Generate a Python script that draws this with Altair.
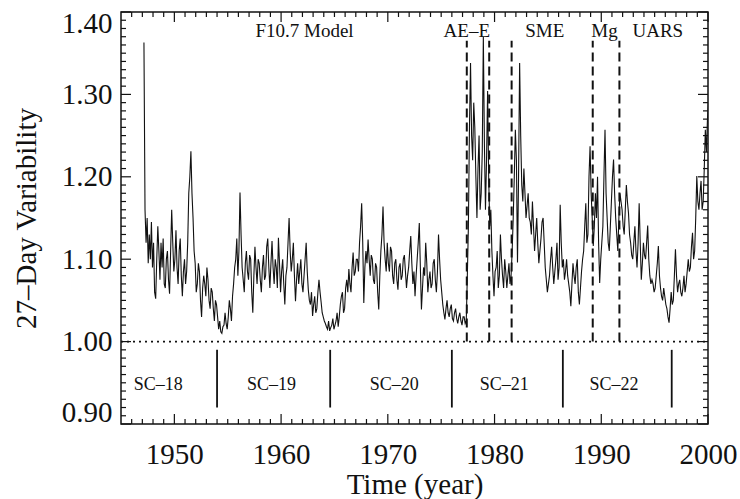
import altair as alt
import pandas as pd

# ---------------- data ----------------
T0 = 1947.15         # first sample (year)
STEP = 0.1           # sample spacing (year)
variability = [
    1.363, 1.160, 1.120, 1.150, 1.095, 1.130, 1.100, 1.145, 1.090, 1.120,  # 1947
    1.060, 1.052, 1.100, 1.140, 1.110, 1.075, 1.120, 1.090, 1.125, 1.070,  # 1948
    1.065, 1.100, 1.110, 1.075, 1.058, 1.110, 1.160, 1.120, 1.085, 1.100,  # 1949
    1.135, 1.090, 1.070, 1.110, 1.125, 1.080, 1.055, 1.085, 1.100, 1.070,  # 1950
    1.085, 1.120, 1.180, 1.200, 1.231, 1.180, 1.150, 1.110, 1.095, 1.060,  # 1951
    1.070, 1.095, 1.085, 1.050, 1.030, 1.065, 1.080, 1.070, 1.055, 1.090,  # 1952
    1.075, 1.050, 1.040, 1.065, 1.060, 1.040, 1.025, 1.050, 1.045, 1.030,  # 1953
    1.015, 1.025, 1.012, 1.010, 1.018, 1.020, 1.035, 1.022, 1.015, 1.030,  # 1954
    1.050, 1.040, 1.025, 1.055, 1.070, 1.090, 1.100, 1.125, 1.080, 1.110,  # 1955
    1.181, 1.130, 1.090, 1.075, 1.060, 1.095, 1.110, 1.085, 1.075, 1.105,  # 1956
    1.100, 1.060, 1.035, 1.080, 1.115, 1.090, 1.070, 1.100, 1.095, 1.075,  # 1957
    1.060, 1.090, 1.105, 1.075, 1.080, 1.115, 1.125, 1.090, 1.065, 1.095,  # 1958
    1.122, 1.090, 1.070, 1.100, 1.090, 1.065, 1.126, 1.095, 1.060, 1.085,  # 1959
    1.100, 1.070, 1.045, 1.080, 1.090, 1.120, 1.150, 1.110, 1.085, 1.100,  # 1960
    1.120, 1.080, 1.049, 1.075, 1.095, 1.070, 1.085, 1.100, 1.070, 1.060,  # 1961
    1.080, 1.100, 1.120, 1.085, 1.063, 1.050, 1.045, 1.060, 1.031, 1.045,  # 1962
    1.055, 1.035, 1.040, 1.060, 1.075, 1.060, 1.048, 1.035, 1.030, 1.025,  # 1963
    1.022, 1.018, 1.015, 1.025, 1.013, 1.017, 1.020, 1.028, 1.015, 1.020,  # 1964
    1.025, 1.035, 1.018, 1.030, 1.045, 1.055, 1.060, 1.035, 1.040, 1.065,  # 1965
    1.075, 1.060, 1.088, 1.070, 1.060, 1.090, 1.108, 1.080, 1.085, 1.100,  # 1966
    1.100, 1.085, 1.120, 1.140, 1.168, 1.120, 1.047, 1.090, 1.110, 1.095,  # 1967
    1.124, 1.100, 1.080, 1.105, 1.100, 1.075, 1.070, 1.095, 1.090, 1.060,  # 1968
    1.039, 1.080, 1.110, 1.130, 1.164, 1.120, 1.100, 1.085, 1.120, 1.095,  # 1969
    1.085, 1.115, 1.110, 1.080, 1.070, 1.095, 1.100, 1.075, 1.063, 1.090,  # 1970
    1.095, 1.075, 1.080, 1.100, 1.105, 1.085, 1.065, 1.080, 1.090, 1.110,  # 1971
    1.128, 1.095, 1.070, 1.085, 1.055, 1.080, 1.100, 1.120, 1.144, 1.090,  # 1972
    1.039, 1.065, 1.090, 1.080, 1.120, 1.095, 1.060, 1.075, 1.085, 1.065,  # 1973
    1.070, 1.095, 1.100, 1.075, 1.060, 1.085, 1.130, 1.100, 1.075, 1.060,  # 1974
    1.045, 1.035, 1.027, 1.040, 1.050, 1.035, 1.030, 1.040, 1.045, 1.028,  # 1975
    1.025, 1.035, 1.040, 1.028, 1.022, 1.030, 1.035, 1.025, 1.020, 1.030,  # 1976
    1.030, 1.022, 1.025, 1.080, 1.140, 1.260, 1.338, 1.250, 1.220, 1.290,  # 1977
    1.260, 1.200, 1.150, 1.210, 1.250, 1.160, 1.180, 1.230, 1.370, 1.240,  # 1978
    1.160, 1.220, 1.304, 1.200, 1.140, 1.160, 1.110, 1.080, 1.055, 1.085,  # 1979
    1.090, 1.110, 1.065, 1.080, 1.130, 1.100, 1.080, 1.065, 1.100, 1.085,  # 1980
    1.065, 1.080, 1.095, 1.070, 1.080, 1.110, 1.150, 1.200, 1.257, 1.220,  # 1981
    1.096, 1.200, 1.338, 1.250, 1.190, 1.170, 1.210, 1.180, 1.150, 1.165,  # 1982
    1.180, 1.150, 1.145, 1.130, 1.170, 1.140, 1.110, 1.130, 1.150, 1.120,  # 1983
    1.095, 1.110, 1.125, 1.145, 1.150, 1.120, 1.090, 1.075, 1.060, 1.070,  # 1984
    1.080, 1.100, 1.115, 1.090, 1.070, 1.085, 1.100, 1.120, 1.075, 1.090,  # 1985
    1.166, 1.120, 1.090, 1.100, 1.075, 1.085, 1.100, 1.080, 1.070, 1.060,  # 1986
    1.043, 1.070, 1.095, 1.080, 1.070, 1.090, 1.100, 1.060, 1.045, 1.065,  # 1987
    1.085, 1.100, 1.110, 1.140, 1.168, 1.120, 1.130, 1.200, 1.237, 1.180,  # 1988
    1.150, 1.116, 1.140, 1.180, 1.150, 1.200, 1.120, 1.071, 1.100, 1.120,  # 1989
    1.140, 1.200, 1.257, 1.180, 1.150, 1.120, 1.110, 1.140, 1.170, 1.200,  # 1990
    1.221, 1.180, 1.150, 1.130, 1.110, 1.150, 1.180, 1.170, 1.160, 1.140,  # 1991
    1.130, 1.160, 1.190, 1.170, 1.156, 1.130, 1.120, 1.105, 1.100, 1.120,  # 1992
    1.140, 1.110, 1.090, 1.120, 1.168, 1.120, 1.075, 1.095, 1.120, 1.105,  # 1993
    1.100, 1.120, 1.141, 1.100, 1.080, 1.070, 1.075, 1.070, 1.060, 1.065,  # 1994
    1.080, 1.095, 1.116, 1.080, 1.065, 1.055, 1.050, 1.065, 1.055, 1.045,  # 1995
    1.040, 1.030, 1.023, 1.040, 1.060, 1.045, 1.050, 1.080, 1.112, 1.080,  # 1996
    1.060, 1.070, 1.075, 1.060, 1.055, 1.065, 1.080, 1.060, 1.070, 1.085,  # 1997
    1.100, 1.085, 1.090, 1.115, 1.132, 1.100, 1.110, 1.150, 1.201, 1.170,  # 1998
    1.160, 1.180, 1.195, 1.160, 1.170, 1.210, 1.257, 1.230, 1.270, 1.290,  # 1999
]
years = [round(T0 + STEP * i, 2) for i in range(len(variability))]

instrument_edges = [1977.4, 1979.5, 1981.6, 1989.2, 1991.7]
instrument_names = ["F10.7 Model", "AE\u2013E", "SME", "Mg", "UARS"]
instrument_name_x = [1962.2, 1977.4, 1984.7, 1990.3, 1995.3]

cycle_edges = [1954.0, 1964.6, 1976.0, 1986.4, 1996.6]
cycle_names = ["SC\u201318", "SC\u201319", "SC\u201320", "SC\u201321", "SC\u201322"]
cycle_name_x = [1948.5, 1959.1, 1970.6, 1980.9, 1991.2]

x_major = [1950, 1960, 1970, 1980, 1990, 2000]
x_minor = [y for y in range(1946, 2000) if y % 10 != 0]
y_major = [0.90, 1.00, 1.10, 1.20, 1.30, 1.40]
y_minor = [round(0.90 + 0.01 * k, 2) for k in range(1, 50) if k % 10 != 0]

# ---------------- chart ----------------
W, H = 587, 412
FONT = "Liberation Serif"
INK = "#111"
XDOM = [1945, 2000]
YDOM = [0.90, 1.40]

XAX = alt.Axis(values=x_major, format="d", ticks=False, domain=False,
               grid=False, labelFont=FONT, labelFontSize=29,
               labelColor=INK, labelBaseline="middle", labelFlush=False,
               labelPadding=30, title="Time (year)",
               titleFont=FONT, titleFontSize=29,
               titleFontWeight="normal", titleColor=INK,
               titleBaseline="middle", titleY=60)
YAX = alt.Axis(values=y_major, format=".2f", ticks=False, domain=False,
               grid=False, labelFont=FONT, labelFontSize=29,
               labelColor=INK, labelPadding=9, labelFlush=True,
               labelFlushOffset=3,
               title="27\u2013Day Variability", titleFont=FONT,
               titleFontSize=29, titleFontWeight="normal",
               titleColor=INK, titleBaseline="middle",
               titleAngle=270, titleX=-95, titleY=H / 2)


def X(field):
    return alt.X(field, scale=alt.Scale(domain=XDOM, nice=False, zero=False),
                 axis=XAX, title="Time (year)")


def Y(field):
    return alt.Y(field, scale=alt.Scale(domain=YDOM, nice=False, zero=False),
                 axis=YAX, title="27\u2013Day Variability")


series = pd.DataFrame({"year": years, "v": variability})
line = alt.Chart(series).mark_line(color=INK, strokeWidth=1.1, clip=True).encode(
    x=X("year:Q"), y=Y("v:Q"))

ref_df = pd.DataFrame({"y": [1.0]})
dotted = alt.Chart(ref_df).mark_rule(color=INK, strokeWidth=1.6,
                                     strokeDash=[2, 4]).encode(
    y=Y("y:Q"), x=alt.value(0), x2=alt.value(W))

inst_df = pd.DataFrame({"x": instrument_edges, "y0": [1.0] * 5, "y1": [1.365] * 5})
dashed = alt.Chart(inst_df).mark_rule(color=INK, strokeWidth=2,
                                      strokeDash=[9, 5]).encode(
    x=X("x:Q"), y=Y("y0:Q"), y2="y1:Q")

cyc_df = pd.DataFrame({"x": cycle_edges, "y0": [0.92] * 5, "y1": [0.99] * 5})
cyc_rules = alt.Chart(cyc_df).mark_rule(color=INK, strokeWidth=1.8).encode(
    x=X("x:Q"), y=Y("y0:Q"), y2="y1:Q")

cyc_lab_df = pd.DataFrame({"x": cycle_name_x, "y": [0.947] * 5, "t": cycle_names})
cyc_text = alt.Chart(cyc_lab_df).mark_text(font=FONT, fontSize=18, color=INK,
                                           baseline="middle").encode(
    x=X("x:Q"), y=Y("y:Q"), text="t:N")

inst_lab_df = pd.DataFrame({"x": instrument_name_x, "y": [1.377] * 5,
                            "t": instrument_names})
inst_text = alt.Chart(inst_lab_df).mark_text(font=FONT, fontSize=19, color=INK,
                                             baseline="middle").encode(
    x=X("x:Q"), y=Y("y:Q"), text="t:N")


def xticks(vals, length):
    df = pd.DataFrame({"x": vals})
    bottom = alt.Chart(df).mark_rule(color=INK, strokeWidth=1.2).encode(
        x=X("x:Q"), y=alt.value(H), y2=alt.value(H - length))
    top = alt.Chart(df).mark_rule(color=INK, strokeWidth=1.2).encode(
        x=X("x:Q"), y=alt.value(0), y2=alt.value(length))
    return [bottom, top]


def yticks(vals, length):
    df = pd.DataFrame({"y": vals})
    left = alt.Chart(df).mark_rule(color=INK, strokeWidth=1.2).encode(
        y=Y("y:Q"), x=alt.value(0), x2=alt.value(length))
    right = alt.Chart(df).mark_rule(color=INK, strokeWidth=1.2).encode(
        y=Y("y:Q"), x=alt.value(W), x2=alt.value(W - length))
    return [left, right]


tick_layers = (xticks(x_major, 10) + xticks(x_minor, 5)
               + yticks(y_major, 10) + yticks(y_minor, 5))

chart = alt.layer(
    line, dotted, dashed, cyc_rules, cyc_text, inst_text, *tick_layers
).properties(
    width=W, height=H,
    padding={"left": 121, "top": 12, "right": 32, "bottom": 75},
    autosize=alt.AutoSizeParams(type="none"),
    background="white",
).configure_view(stroke=INK, strokeWidth=1.5)

chart.save("out.html", embed_options={"renderer": "svg", "actions": False})
